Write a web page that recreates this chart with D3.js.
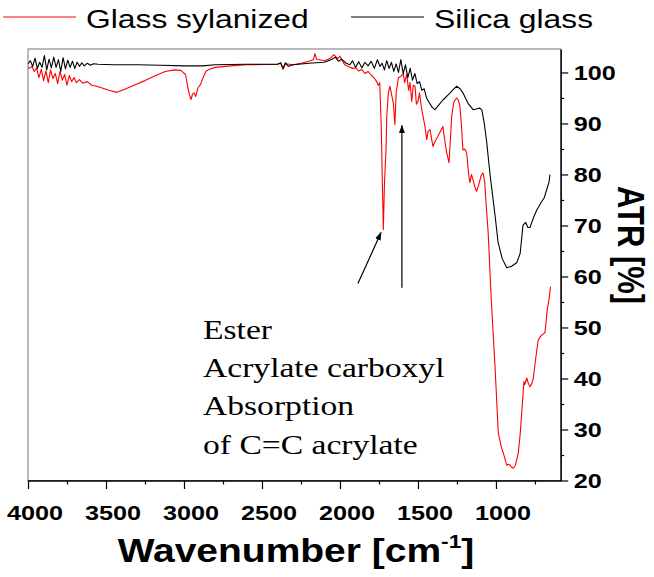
<!DOCTYPE html>
<html>
<head>
<meta charset="utf-8">
<script src="https://cdn.jsdelivr.net/npm/d3@7"></script>
<style>
  body { margin: 0; background: #fff; }
  svg { display: block; font-family: "Liberation Sans", Arial, sans-serif; }
</style>
</head>
<body>
<div id="chart"></div>
<script>
// values: [wavenumber cm-1, ATR %]
var seriesNames = ["Glass sylanized", "Silica glass"];
var seriesColors = ["#ff0000", "#000000"];

var glassSylanized = [
  [4000,101.0],[3990,100.8],[3975,101.2],[3960,100.2],[3945,100.9],[3930,99.0],[3915,100.6],
  [3900,98.4],[3885,100.3],[3870,98.0],[3855,100.5],[3840,98.8],[3825,99.8],[3810,97.8],
  [3795,100.2],[3780,98.5],[3765,99.6],[3750,97.5],[3735,99.4],[3720,98.2],[3705,99.0],
  [3690,98.0],[3670,98.6],[3650,97.9],[3620,98.2],[3590,97.5],[3560,97.3],[3520,96.9],
  [3480,96.5],[3430,96.1],[3380,96.7],[3320,97.5],[3250,98.4],[3180,99.4],[3120,100.2],
  [3060,100.5],[3020,100.4],[2990,99.6],[2975,97.0],[2965,95.6],[2955,94.7],[2945,95.8],
  [2935,96.0],[2925,95.3],[2910,97.0],[2895,97.6],[2880,98.8],[2860,100.2],[2840,100.6],
  [2800,101.0],[2700,101.3],[2600,101.5],[2400,101.6],[2380,101.8],[2365,100.6],[2350,101.7],
  [2300,101.5],[2250,101.8],[2200,102.2],[2170,102.5],[2160,103.7],[2150,102.6],[2100,102.3],
  [2060,102.8],[2040,103.5],[2030,103.2],[2015,102.7],[2000,103.2],[1985,102.3],[1970,101.5],
  [1950,101.2],[1936,101.0],[1920,100.8],[1900,100.9],[1880,100.3],[1860,100.6],[1840,99.8],
  [1820,100.2],[1800,99.5],[1780,98.9],[1765,98.2],[1755,97.5],[1745,98.0],[1735,89.0],
  [1728,78.0],[1722,69.2],[1715,78.0],[1705,84.9],[1700,91.4],[1690,96.0],[1680,97.3],
  [1668,95.5],[1658,94.0],[1648,89.8],[1640,96.0],[1625,99.0],[1610,99.2],[1595,99.8],
  [1585,98.0],[1572,99.6],[1560,96.5],[1551,98.0],[1540,94.3],[1530,97.5],[1519,97.3],
  [1510,93.8],[1500,94.3],[1490,96.0],[1476,92.7],[1465,91.0],[1455,89.4],[1444,86.8],
  [1435,88.5],[1423,88.8],[1404,85.5],[1390,86.5],[1372,87.5],[1355,88.5],[1340,89.4],
  [1325,86.0],[1316,84.3],[1301,82.3],[1290,88.0],[1284,91.4],[1270,94.2],[1252,95.0],
  [1240,94.5],[1231,93.4],[1220,89.0],[1212,84.8],[1200,85.0],[1188,84.3],[1175,80.0],
  [1167,78.4],[1157,80.0],[1147,79.0],[1135,77.5],[1124,76.7],[1110,78.0],[1095,79.8],
  [1083,80.3],[1072,78.5],[1065,75.0],[1050,68.6],[1030,55.4],[1006,42.3],[985,29.3],
  [965,26.5],[953,25.4],[931,23.0],[920,23.2],[910,23.0],[900,22.6],[889,22.4],[875,23.0],
  [857,25.4],[845,29.0],[835,33.2],[821,39.4],[815,38.8],[803,40.1],[792,39.0],[782,38.4],
  [770,39.0],[761,40.0],[745,44.0],[729,47.6],[715,48.2],[707,48.5],[686,49.0],[671,53.5],
  [660,55.5],[650,58.0]
];

var silicaGlass = [
  [4000,101.7],[3985,102.3],[3970,101.2],[3955,102.8],[3940,100.8],[3925,102.0],[3910,101.0],
  [3895,103.3],[3880,100.5],[3865,102.6],[3850,100.9],[3835,103.0],[3820,101.0],[3805,102.5],
  [3790,100.2],[3775,102.9],[3760,100.7],[3745,102.4],[3730,101.0],[3715,102.2],[3700,100.8],
  [3685,102.0],[3670,101.2],[3655,101.9],[3640,101.3],[3620,101.8],[3600,101.4],[3580,101.7],
  [3550,101.6],[3450,101.5],[3300,101.5],[3150,101.4],[3000,101.3],[2880,101.3],[2800,101.5],
  [2600,101.6],[2400,101.6],[2380,101.9],[2365,100.8],[2350,101.9],[2330,101.2],[2300,101.5],
  [2200,101.8],[2100,102.0],[2050,102.6],[2030,103.0],[2010,102.2],[1990,102.6],[1960,101.8],
  [1936,101.5],[1920,102.3],[1900,101.0],[1880,102.1],[1860,100.9],[1840,102.0],[1820,101.3],
  [1800,102.2],[1780,100.8],[1760,102.5],[1744,101.2],[1730,101.8],[1715,100.5],[1700,102.3],
  [1685,100.8],[1670,102.0],[1655,100.2],[1640,101.7],[1625,100.0],[1610,102.5],[1595,99.8],
  [1580,101.5],[1565,99.0],[1550,100.8],[1535,98.5],[1520,99.8],[1505,97.8],[1490,98.2],
  [1475,96.5],[1460,96.8],[1445,95.0],[1430,94.2],[1410,93.2],[1391,92.7],[1370,93.5],
  [1340,94.6],[1300,95.8],[1270,96.8],[1252,97.3],[1230,96.8],[1212,96.0],[1180,94.0],
  [1147,92.7],[1120,92.9],[1103,93.0],[1090,92.6],[1075,90.0],[1060,86.5],[1038,80.0],
  [1020,75.5],[1006,72.0],[987,66.8],[960,63.5],[931,61.7],[900,62.0],[867,62.7],[845,64.5],
  [827,70.0],[810,70.6],[795,69.6],[782,69.6],[760,71.5],[739,73.0],[710,74.5],[690,75.5],
  [675,77.0],[660,78.5],[654,80.0]
];

var xMajorTicks = [4000, 3500, 3000, 2500, 2000, 1500, 1000];
var xMinorTicks = [3750, 3250, 2750, 2250, 1750, 1250, 750];
var yMajorTicks = [20, 30, 40, 50, 60, 70, 80, 90, 100];
var yMinorTicks = [25, 35, 45, 55, 65, 75, 85, 95];

var noteLines = ["Ester", "Acrylate carboxyl", "Absorption", "of C=C acrylate"];
var noteAnchor = [2878, 47.8];          // first line, data coords
var arrows = [
  {from: [1885, 58.6], to: [1737, 68.6]},
  {from: [1603, 57.8], to: [1603, 89.6]}
];

(function () {
  var W = 654, H = 577;
  var margin = {top: 49, left: 28},
      width = 532.7, height = 431.5;
  var sx = 1.2;   // the reference is stretched horizontally

  var svg = d3.select("#chart").append("svg")
    .attr("width", W).attr("height", H);

  var defs = svg.append("defs");
  defs.append("clipPath").attr("id", "clip")
    .append("rect").attr("width", width).attr("height", height);
  defs.append("marker").attr("id", "arrow")
    .attr("viewBox", "0 0 10 10").attr("refX", 9).attr("refY", 5)
    .attr("markerWidth", 7).attr("markerHeight", 7).attr("orient", "auto")
    .append("path").attr("d", "M0,1.5L10,5L0,8.5Z").attr("fill", "#000");

  var g = svg.append("g")
    .attr("transform", "translate(" + margin.left + "," + margin.top + ")");

  var x = d3.scaleLinear().domain([4000, 585]).range([0, width]);
  var y = d3.scaleLinear().domain([20, 104.6]).range([height, 0]);

  // frame (top / left in grey)
  g.append("rect")
    .attr("width", width).attr("height", height)
    .attr("fill", "none").attr("stroke", "#777").attr("stroke-width", 1);

  var line = d3.line()
    .x(function (d) { return x(d[0]); })
    .y(function (d) { return y(d[1]); });

  var plot = g.append("g").attr("clip-path", "url(#clip)");
  [glassSylanized, silicaGlass].forEach(function (s, i) {
    plot.append("path")
      .attr("d", line(s))
      .attr("fill", "none")
      .attr("stroke", seriesColors[i])
      .attr("stroke-width", 1.1)
      .attr("stroke-linejoin", "round");
  });

  // bottom axis
  var xa = g.append("g")
    .attr("transform", "translate(0," + height + ")")
    .call(d3.axisBottom(x).tickValues(xMajorTicks).tickSize(8.5)
      .tickSizeOuter(0).tickPadding(16).tickFormat(d3.format("d")));
  g.append("g")
    .attr("transform", "translate(0," + height + ")")
    .call(d3.axisBottom(x).tickValues(xMinorTicks).tickSize(4)
      .tickSizeOuter(0).tickFormat(""))
    .select(".domain").remove();

  // right axis
  var ya = g.append("g")
    .attr("transform", "translate(" + width + ",0)")
    .call(d3.axisRight(y).tickValues(yMajorTicks).tickSize(7.5)
      .tickSizeOuter(0).tickFormat(d3.format("d")));
  g.append("g")
    .attr("transform", "translate(" + width + ",0)")
    .call(d3.axisRight(y).tickValues(yMinorTicks).tickSize(3.5)
      .tickSizeOuter(0).tickFormat(""))
    .select(".domain").remove();

  g.selectAll(".domain").attr("stroke", "#000").attr("stroke-width", 1.4);
  g.selectAll(".tick line").attr("stroke", "#000").attr("stroke-width", 1.2);
  g.selectAll(".tick text")
    .attr("fill", "#000")
    .style("font-family", "'Liberation Sans', Arial, sans-serif")
    .style("font-size", "21px").style("font-weight", "bold");
  xa.selectAll(".tick text").attr("x", 5.4).attr("transform", "scale(" + sx + ",1)");
  ya.selectAll(".tick text").attr("x", 10.8).attr("transform", "scale(" + sx + ",1)");

  // axis titles
  var xt = svg.append("text")
    .attr("transform", "translate(" + 296 + ",562) scale(" + sx + ",1)")
    .attr("text-anchor", "middle")
    .style("font-size", "32.5px").style("font-weight", "bold");
  xt.append("tspan").text("Wavenumber [cm");
  xt.append("tspan").attr("dy", -14).style("font-size", "19px").text("-1");
  xt.append("tspan").attr("dy", 14).text("]");

  svg.append("text")
    .attr("transform", "translate(618,245) scale(" + sx + ",1) rotate(90)")
    .attr("text-anchor", "middle")
    .style("font-size", "31px").style("font-weight", "bold")
    .text("ATR [%]");

  // legend
  var legX = [3, 351];
  seriesNames.forEach(function (name, i) {
    var lg = svg.append("g").attr("transform", "translate(" + legX[i] + ",0)");
    lg.append("line")
      .attr("x1", 0).attr("x2", 73).attr("y1", 17).attr("y2", 17)
      .attr("stroke", seriesColors[i]).attr("stroke-width", 1.1);
    lg.append("text")
      .attr("transform", "translate(83,28) scale(" + sx + ",1)")
      .style("font-size", "26.5px")
      .text(name);
  });

  // annotation arrows and note
  arrows.forEach(function (a) {
    g.append("line")
      .attr("x1", x(a.from[0])).attr("y1", y(a.from[1]))
      .attr("x2", x(a.to[0])).attr("y2", y(a.to[1]))
      .attr("stroke", "#000").attr("stroke-width", 1.2)
      .attr("marker-end", "url(#arrow)");
  });

  var lineGap = 38.3;
  noteLines.forEach(function (t, i) {
    g.append("text")
      .attr("transform", "translate(" + x(noteAnchor[0]) + "," + (y(noteAnchor[1]) + i * lineGap) + ") scale(" + sx + ",1)")
      .style("font-family", "'Liberation Serif', 'Times New Roman', serif")
      .style("font-size", "28px")
      .text(t);
  });
})();
</script>
</body>
</html>
